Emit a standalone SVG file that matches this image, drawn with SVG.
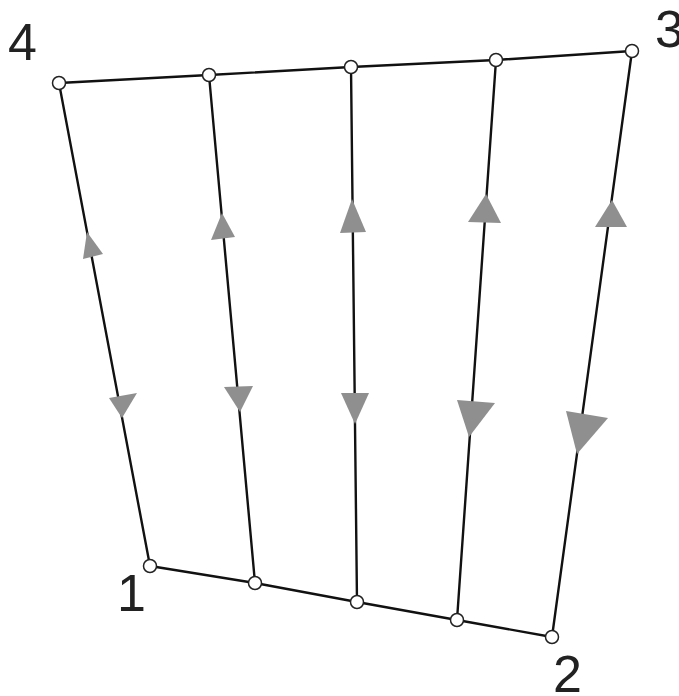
<svg xmlns="http://www.w3.org/2000/svg" width="679" height="696" viewBox="0 0 679 696">
<style>
.edge{stroke:#111;stroke-width:2.4;fill:none;stroke-linecap:round}
.arr{fill:#8f8f8f;stroke:none}
.node{fill:#fff;stroke:#222;stroke-width:1.5}
.lbl{font-family:"Liberation Sans",Arial,sans-serif;font-size:52px;fill:#222}
</style>
<rect width="679" height="696" fill="#fff"/>
<g id="connectors">
<polyline class="edge" points="59,83 209,75 351,67 496,60 632,51"/>
<polyline class="edge" points="150,566 255,583 357,602 457,620 552,637"/>
<line class="edge" x1="59" y1="83" x2="150" y2="566"/>
<line class="edge" x1="209" y1="75" x2="255" y2="583"/>
<line class="edge" x1="351" y1="67" x2="357" y2="602"/>
<line class="edge" x1="496" y1="60" x2="457" y2="620"/>
<line class="edge" x1="632" y1="51" x2="552" y2="637"/>
<polygon class="arr" points="87,232 103,254 83,259"/>
<polygon class="arr" points="109,398 137,393 122,418"/>
<polygon class="arr" points="222,213 235,237 211,240"/>
<polygon class="arr" points="224,387 253,386 240,412"/>
<polygon class="arr" points="352,199 366,232 340,233"/>
<polygon class="arr" points="341,393 369,393 355,424"/>
<polygon class="arr" points="486,194 501,223 468,222"/>
<polygon class="arr" points="457,400 495,403 469,437"/>
<polygon class="arr" points="612,200 627,227 595,227"/>
<polygon class="arr" points="566,411 608,418 577,454"/>
</g>
<g id="n4"><circle class="node" cx="59" cy="83" r="6.5"/><text class="lbl" x="8" y="60">4</text></g>
<g id="t2"><circle class="node" cx="209" cy="75" r="6.5"/></g>
<g id="t3"><circle class="node" cx="351" cy="67" r="6.5"/></g>
<g id="t4"><circle class="node" cx="496" cy="60" r="6.5"/></g>
<g id="n3"><circle class="node" cx="632" cy="51" r="6.5"/><text class="lbl" x="655" y="47">3</text></g>
<g id="n1"><circle class="node" cx="150" cy="566" r="6.5"/><text class="lbl" x="117" y="611">1</text></g>
<g id="b2"><circle class="node" cx="255" cy="583" r="6.5"/></g>
<g id="b3"><circle class="node" cx="357" cy="602" r="6.5"/></g>
<g id="b4"><circle class="node" cx="457" cy="620" r="6.5"/></g>
<g id="n2"><circle class="node" cx="552" cy="637" r="6.5"/><text class="lbl" x="553" y="692">2</text></g>
</svg>
